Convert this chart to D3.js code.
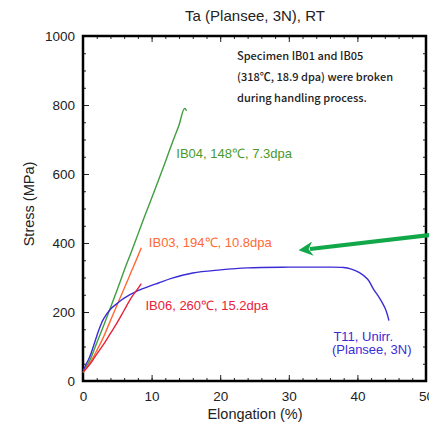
<!DOCTYPE html>
<html>
<head>
<meta charset="utf-8">
<script src="https://cdn.jsdelivr.net/npm/d3@7"></script>
<style>
  body { margin: 0; background: #fff; }
  svg { display: block; font-family: "Liberation Sans", Arial, sans-serif; }
</style>
</head>
<body>
<script>
// stress-strain curves, Ta at room temperature
const ib04 = [[0,25],[1,60],[2,110],[3,160],[4,212],[5,265],[6,320],[7,372],[8,425],[9,478],[10,530],[11,582],[12,635],[13,690],[14,742],[14.8,790],[15.1,784]];
const ib03 = [[0,25],[1,52],[2,88],[3,128],[4,175],[5,222],[6,268],[7,315],[8,362],[8.5,386]];
const ib06 = [[0,25],[1,48],[2,78],[3,106],[4,138],[5,170],[6,205],[7,240],[8,268],[8.5,282]];
const t11 = [[0,30],[0.5,50],[1,71],[2,130],[2.5,158],[3,180],[4,208],[5,225],[6,240],[8,262],[10,277],[11,284],[13,298],[16,313],[20,322],[24,328],[30,330],[35,330],[38,329],[39,325],[40.3,314],[41.5,295],[42.3,268],[43.3,238],[44.1,208],[44.6,175]];

const xTicks = [0, 10, 20, 30, 40, 50];
const yTicks = [0, 200, 400, 600, 800, 1000];

const width = 429, height = 426;
const pLeft = 83, pRight = 426, pTop = 36, pBottom = 381;

const x = d3.scaleLinear().domain([0, 50]).range([pLeft, pRight]);
const y = d3.scaleLinear().domain([0, 1000]).range([pBottom, pTop]);

const svg = d3.select('body').append('svg')
  .attr('width', width)
  .attr('height', height);

const minorX = d3.range(0, 51, 2);
const minorY = d3.range(0, 1001, 50);

// minor ticks all round (pointing in)
function minor(g) { g.select('.domain').remove(); g.selectAll('text').remove(); g.selectAll('line').attr('stroke', '#222'); }
svg.append('g').attr('transform', `translate(0,${pBottom})`)
  .call(d3.axisBottom(x).tickValues(minorX).tickSize(-3)).call(minor);
svg.append('g').attr('transform', `translate(0,${pTop})`)
  .call(d3.axisTop(x).tickValues(minorX).tickSize(-3)).call(minor);
svg.append('g').attr('transform', `translate(${pLeft},0)`)
  .call(d3.axisLeft(y).tickValues(minorY).tickSize(-3)).call(minor);
svg.append('g').attr('transform', `translate(${pRight},0)`)
  .call(d3.axisRight(y).tickValues(minorY).tickSize(-3)).call(minor);

// major ticks with labels
const xAxis = svg.append('g').attr('transform', `translate(0,${pBottom})`)
  .call(d3.axisBottom(x).tickValues(xTicks).tickSize(-6).tickPadding(10).tickFormat(d3.format('d')));
xAxis.select('.domain').remove();
xAxis.selectAll('text').attr('font-size', 13.5).attr('fill', '#222').attr('font-family', 'Liberation Sans');
xAxis.selectAll('line').attr('stroke', '#222');

const yAxis = svg.append('g').attr('transform', `translate(${pLeft},0)`)
  .call(d3.axisLeft(y).tickValues(yTicks).tickSize(-6).tickPadding(8).tickFormat(d3.format('d')));
yAxis.select('.domain').remove();
yAxis.selectAll('text').attr('font-size', 13.5).attr('fill', '#222').attr('font-family', 'Liberation Sans');
yAxis.selectAll('line').attr('stroke', '#222');

svg.append('g').attr('transform', `translate(0,${pTop})`)
  .call(d3.axisTop(x).tickValues(xTicks).tickSize(-6)).call(minor);
svg.append('g').attr('transform', `translate(${pRight},0)`)
  .call(d3.axisRight(y).tickValues(yTicks).tickSize(-6)).call(minor);

// frame
svg.append('rect')
  .attr('x', pLeft).attr('y', pTop)
  .attr('width', pRight - pLeft).attr('height', pBottom - pTop)
  .attr('fill', 'none').attr('stroke', '#000').attr('stroke-width', 2.5);

// curves
const line = d3.line().x(d => x(d[0])).y(d => y(d[1])).curve(d3.curveMonotoneX);
const smooth = d3.line().x(d => x(d[0])).y(d => y(d[1])).curve(d3.curveCatmullRom);
const curves = [
  { data: ib04, color: '#3f9e3f', gen: line },
  { data: ib03, color: '#ff6a33', gen: line },
  { data: t11, color: '#3b2bd6', gen: smooth },
  { data: ib06, color: '#e8213a', gen: line }
];
svg.selectAll('path.curve')
  .data(curves)
  .enter()
  .append('path')
  .attr('class', 'curve')
  .attr('d', d => d.gen(d.data))
  .attr('fill', 'none')
  .attr('stroke', d => d.color)
  .attr('stroke-width', 1.4);

// labels
svg.append('text').attr('x', 255).attr('y', 21).attr('text-anchor', 'middle')
  .attr('font-size', 15).attr('fill', '#222').text('Ta (Plansee, 3N), RT');
svg.append('text').attr('x', 255).attr('y', 419).attr('text-anchor', 'middle')
  .attr('font-size', 14.5).attr('fill', '#222').text('Elongation (%)');
svg.append('text').attr('transform', 'translate(34,204) rotate(-90)').attr('text-anchor', 'middle')
  .attr('font-size', 14.5).attr('fill', '#222').text('Stress (MPa)');

const note = ['Specimen IB01 and IB05', '(318\u2103, 18.9 dpa) were broken', 'during handling process.'];
svg.append('g').selectAll('text')
  .data(note)
  .enter()
  .append('text')
  .attr('x', 237)
  .attr('y', (d, i) => 60 + i * 21)
  .attr('font-family', '"Noto Sans CJK JP", "Noto Sans", sans-serif')
  .attr('font-size', 11)
  .attr('font-weight', 500)
  .attr('fill', '#222')
  .text(d => d);

const tags = [
  { t: 'IB04, 148\u2103, 7.3dpa', xv: 13.6, yv: 645, c: '#4a9a2a' },
  { t: 'IB03, 194\u2103, 10.8dpa', xv: 9.6, yv: 388, c: '#ff6a33' },
  { t: 'IB06, 260\u2103, 15.2dpa', xv: 9.1, yv: 205, c: '#e8213a' },
  { t: 'T11, Unirr.', xv: 36.5, yv: 117, c: '#3b2bd6' },
  { t: '(Plansee, 3N)', xv: 36.3, yv: 77, c: '#3b2bd6' }
];
svg.append('g').selectAll('text')
  .data(tags)
  .enter()
  .append('text')
  .attr('x', d => x(d.xv))
  .attr('y', d => y(d.yv))
  .attr('font-size', 13)
  .attr('fill', d => d.c)
  .text(d => d.t);

// green arrow
svg.append('defs').append('marker')
  .attr('id', 'head')
  .attr('viewBox', '0 0 10 10')
  .attr('refX', 2).attr('refY', 5)
  .attr('markerWidth', 3.6).attr('markerHeight', 3.6)
  .attr('orient', 'auto')
  .append('path').attr('d', 'M0,0 L10,5 L0,10 L3,5 Z').attr('fill', '#12a84a');
svg.append('line')
  .attr('x1', 430).attr('y1', 235)
  .attr('x2', 310).attr('y2', 249)
  .attr('stroke', '#12a84a').attr('stroke-width', 4)
  .attr('marker-end', 'url(#head)');
</script>
</body>
</html>
